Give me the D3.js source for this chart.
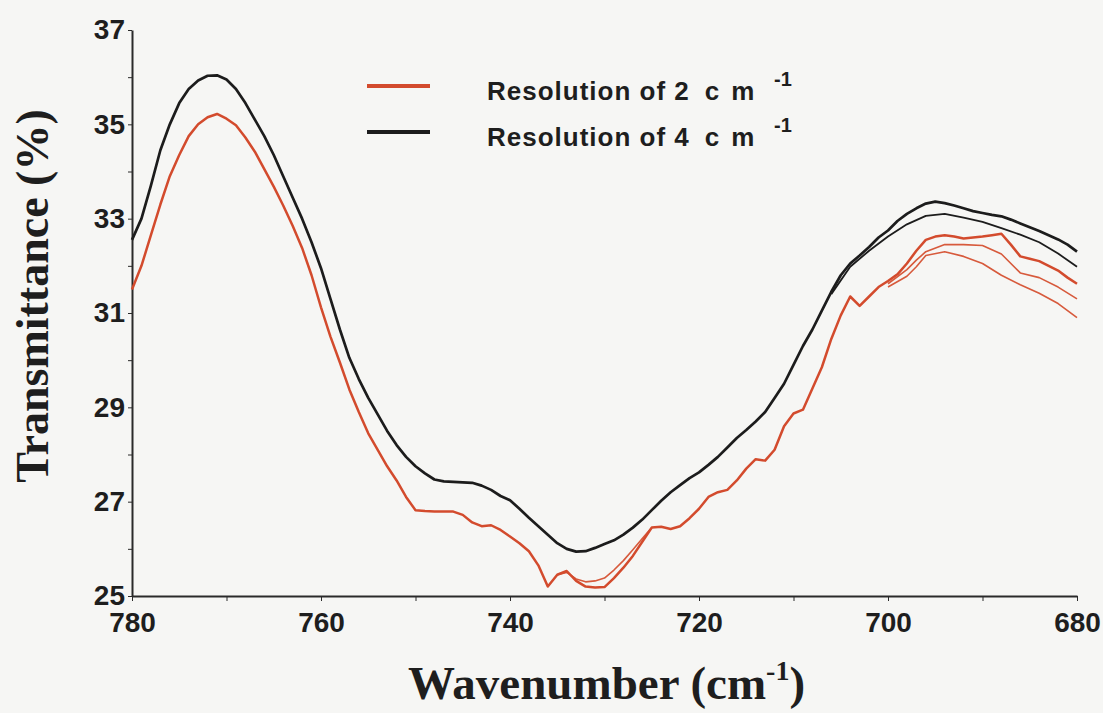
<!DOCTYPE html>
<html>
<head>
<meta charset="utf-8">
<script src="https://cdn.jsdelivr.net/npm/d3@7"></script>
<style>
  body { margin: 0; background: #f6f6f4; }
  svg { display: block; }
  .axis path, .axis line { stroke: #2a2a2a; }
  .axis text { font-family: "Liberation Sans", Arial, sans-serif; font-weight: bold; font-size: 28px; fill: #1e1e1e; }
  .legend text { font-family: "Liberation Sans", Arial, sans-serif; font-weight: bold; font-size: 26px; fill: #1e1e1e; }
  .title { font-family: "Liberation Serif", "Times New Roman", serif; font-weight: bold; fill: #1e1e1e; }
</style>
</head>
<body>
<div id="chart-area"></div>
<script>
// wavenumber grid (cm-1), read from left to right
const wavenumber = [
  780, 779, 778, 777, 776, 775, 774, 773, 772, 771,
  770, 769, 768, 767, 766, 765, 764, 763, 762, 761,
  760, 759, 758, 757, 756, 755, 754, 753, 752, 751,
  750, 749, 748, 747, 746, 745, 744, 743, 742, 741,
  740, 739, 738, 737, 736, 735, 734, 733, 732, 731,
  730, 729, 728, 727, 726, 725, 724, 723, 722, 721,
  720, 719, 718, 717, 716, 715, 714, 713, 712, 711,
  710, 709, 708, 707, 706, 705, 704, 703, 702, 701,
  700, 699, 698, 697, 696, 695, 694, 693, 692, 691,
  690, 689, 688, 687, 686, 685, 684, 683, 682, 681,
  680
];

// resolution of 4 cm-1 (black)
const res4 = [
  32.55, 33.0, 33.7, 34.45, 35.0, 35.45, 35.75, 35.93, 36.03, 36.04,
  35.95, 35.75, 35.45, 35.1, 34.75, 34.35, 33.9, 33.45, 33.0, 32.5,
  31.95, 31.3, 30.65, 30.05, 29.6, 29.2, 28.85, 28.5, 28.2, 27.95,
  27.75, 27.6, 27.47, 27.43, 27.42, 27.41, 27.4, 27.34, 27.25, 27.12,
  27.03, 26.85, 26.66, 26.48, 26.3, 26.12, 26.0, 25.94, 25.95, 26.02,
  26.1, 26.18, 26.3, 26.45, 26.62, 26.82, 27.02, 27.2, 27.35, 27.5,
  27.62, 27.78, 27.95, 28.15, 28.35, 28.52, 28.7, 28.9, 29.2, 29.5,
  29.9, 30.3, 30.65, 31.05, 31.45, 31.8, 32.05, 32.22, 32.4, 32.6,
  32.75, 32.95, 33.1, 33.22, 33.32, 33.36, 33.33, 33.28, 33.22, 33.16,
  33.12, 33.08, 33.05, 32.98, 32.9, 32.82, 32.74, 32.65, 32.56, 32.45,
  32.3
];

// resolution of 2 cm-1 (red)
const res2 = [
  31.5, 32.0, 32.65, 33.3, 33.9, 34.35, 34.75, 35.0, 35.15, 35.22,
  35.12, 34.98, 34.72, 34.42, 34.05, 33.68, 33.28, 32.85, 32.38, 31.8,
  31.12, 30.5, 29.95, 29.38, 28.9, 28.45, 28.1, 27.75, 27.45, 27.1,
  26.82, 26.8, 26.79, 26.79, 26.79, 26.72, 26.56, 26.48, 26.5, 26.4,
  26.26, 26.12, 25.95, 25.65, 25.2, 25.45, 25.53, 25.32, 25.2, 25.18,
  25.19, 25.38, 25.6, 25.85, 26.15, 26.45, 26.47, 26.42, 26.48, 26.65,
  26.85, 27.1, 27.2, 27.25, 27.45, 27.7, 27.9, 27.87, 28.1, 28.6,
  28.87, 28.95, 29.4, 29.85, 30.45, 30.95, 31.35, 31.15, 31.35, 31.55,
  31.68, 31.82, 32.05, 32.32, 32.55, 32.62, 32.65, 32.62, 32.58, 32.6,
  32.62, 32.65, 32.68, 32.45, 32.2, 32.15, 32.1, 32.0, 31.9, 31.75,
  31.62
];

// other repeat scans, only where they split from the main traces
const blackRepWn = [706, 704, 702, 700, 698, 696, 694, 692, 690, 688, 686, 684, 682, 680];
const blackRep = [31.4, 31.98, 32.32, 32.62, 32.88, 33.06, 33.1, 33.02, 32.93, 32.8, 32.66, 32.5, 32.26, 31.98];

const redRepWn = [700, 698, 697, 696, 694, 692, 690, 688, 686, 684, 682, 680];
const redRepB = [31.62, 31.92, 32.12, 32.3, 32.45, 32.45, 32.43, 32.25, 31.85, 31.75, 31.55, 31.3];
const redRepC = [31.55, 31.78, 31.98, 32.22, 32.3, 32.2, 32.05, 31.8, 31.6, 31.42, 31.2, 30.9];

const redDipWn = [735, 734, 733, 732, 731, 730, 729, 728, 727, 726, 725];
const redDip = [25.45, 25.5, 25.36, 25.3, 25.32, 25.38, 25.55, 25.75, 25.98, 26.22, 26.45];

const xTicks = [780, 770, 760, 750, 740, 730, 720, 710, 700, 690, 680];
const yTicks = [25, 26, 27, 28, 29, 30, 31, 32, 33, 34, 35, 36, 37];

const legendItems = [
  { label: "Resolution of 2", color: "#d34b2d" },
  { label: "Resolution of 4", color: "#1c1c1c" }
];

const width = 1103, height = 713;
const margin = { top: 30, right: 26, bottom: 117, left: 132 };
const innerW = width - margin.left - margin.right;
const innerH = height - margin.top - margin.bottom;

const svg = d3.select("#chart-area").append("svg")
  .attr("width", width)
  .attr("height", height);

svg.append("rect").attr("width", width).attr("height", height).attr("fill", "#f6f6f4");

const g = svg.append("g")
  .attr("transform", "translate(" + margin.left + "," + margin.top + ")");

const x = d3.scaleLinear().domain([780, 680]).range([0, innerW]);
const y = d3.scaleLinear().domain([25, 37]).range([innerH, 0]);

// axes
const xAxis = d3.axisBottom(x)
  .tickValues(xTicks)
  .tickSize(5)
  .tickSizeOuter(0)
  .tickPadding(11)
  .tickFormat(d => d % 20 === 0 ? d : "");

const yAxis = d3.axisLeft(y)
  .tickValues(yTicks)
  .tickSize(4)
  .tickSizeOuter(0)
  .tickPadding(3)
  .tickFormat(d => d % 2 === 1 ? d : "");

g.append("g")
  .attr("class", "axis x-axis")
  .attr("transform", "translate(0," + innerH + ")")
  .call(xAxis)
  .call(a => a.select(".domain").attr("stroke-width", 2));

g.append("g")
  .attr("class", "axis y-axis")
  .call(yAxis)
  .call(a => a.select(".domain").attr("stroke-width", 2));

// lines
const line = d3.line()
  .x(d => x(d[0]))
  .y(d => y(d[1]));

function drawSeries(wns, vals, color, w) {
  g.append("path")
    .datum(wns.map((wn, i) => [wn, vals[i]]))
    .attr("fill", "none")
    .attr("stroke", color)
    .attr("stroke-width", w)
    .attr("stroke-linejoin", "round")
    .attr("d", line);
}

drawSeries(redRepWn, redRepC, "#d75a3c", 1.6);
drawSeries(redRepWn, redRepB, "#d75a3c", 1.6);
drawSeries(redDipWn, redDip, "#d75a3c", 1.6);
drawSeries(wavenumber, res2, "#d34b2d", 2.5);
drawSeries(blackRepWn, blackRep, "#1c1c1c", 1.8);
drawSeries(wavenumber, res4, "#1c1c1c", 2.7);

// legend
const legend = svg.append("g").attr("class", "legend");
legendItems.forEach(function (item, i) {
  let ly = 86 + i * 46;
  legend.append("line")
    .attr("x1", 367).attr("x2", 430)
    .attr("y1", ly).attr("y2", ly)
    .attr("stroke", item.color)
    .attr("stroke-width", 4);
  let t = legend.append("text")
    .attr("x", 487)
    .attr("y", ly + 14)
    .attr("letter-spacing", 1);
  t.append("tspan").text(item.label);
  t.append("tspan").attr("dx", 15).attr("letter-spacing", 12).text("cm");
  t.append("tspan")
    .attr("x", 774)
    .attr("dy", -14)
    .attr("font-size", 20)
    .attr("letter-spacing", 0)
    .text("-1");
});

// axis titles
const xt = svg.append("text")
  .attr("class", "title")
  .attr("x", margin.left + innerW / 2 + 2)
  .attr("y", 699)
  .attr("text-anchor", "middle")
  .attr("font-size", 47);
xt.append("tspan").text("Wavenumber (cm");
xt.append("tspan").attr("dy", -19).attr("font-size", 28).text("-1");
xt.append("tspan").attr("dy", 19).text(")");

svg.append("text")
  .attr("class", "title")
  .attr("transform", "translate(48,296) rotate(-90)")
  .attr("text-anchor", "middle")
  .attr("font-size", 46)
  .text("Transmittance (%)");
</script>
</body>
</html>
